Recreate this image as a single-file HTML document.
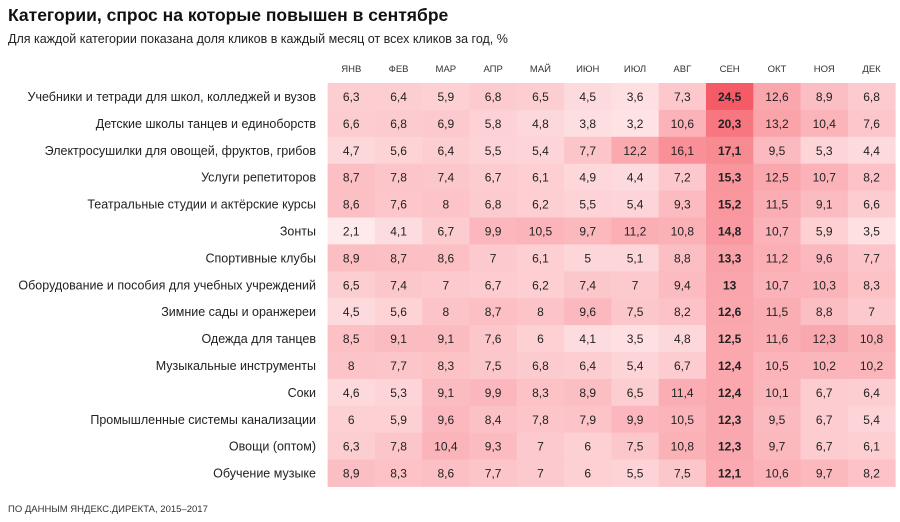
<!DOCTYPE html>
<html><head><meta charset="utf-8"><style>
body{margin:0;width:900px;height:517px;background:#fff;font-family:"Liberation Sans",sans-serif;overflow:hidden}
svg text{font-family:"Liberation Sans",sans-serif}
</style></head><body>
<svg id="c" width="900" height="517">
<text x="8" y="21" font-size="17.5" font-weight="bold" fill="#111">Категории, спрос на которые повышен в сентябре</text>
<text x="8" y="43" font-size="12.5" fill="#222">Для каждой категории показана доля кликов в каждый месяц от всех кликов за год, %</text>
<text x="8" y="512" font-size="9.5" fill="#333">ПО ДАННЫМ ЯНДЕКС.ДИРЕКТА, 2015–2017</text>
</svg>
<script>
const months=["ЯНВ","ФЕВ","МАР","АПР","МАЙ","ИЮН","ИЮЛ","АВГ","СЕН","ОКТ","НОЯ","ДЕК"];
const categories=["Учебники и тетради для школ, колледжей и вузов","Детские школы танцев и единоборств","Электросушилки для овощей, фруктов, грибов","Услуги репетиторов","Театральные студии и актёрские курсы","Зонты","Спортивные клубы","Оборудование и пособия для учебных учреждений","Зимние сады и оранжереи","Одежда для танцев","Музыкальные инструменты","Соки","Промышленные системы канализации","Овощи (оптом)","Обучение музыке"];
const values=[
[6.3,6.4,5.9,6.8,6.5,4.5,3.6,7.3,24.5,12.6,8.9,6.8],
[6.6,6.8,6.9,5.8,4.8,3.8,3.2,10.6,20.3,13.2,10.4,7.6],
[4.7,5.6,6.4,5.5,5.4,7.7,12.2,16.1,17.1,9.5,5.3,4.4],
[8.7,7.8,7.4,6.7,6.1,4.9,4.4,7.2,15.3,12.5,10.7,8.2],
[8.6,7.6,8,6.8,6.2,5.5,5.4,9.3,15.2,11.5,9.1,6.6],
[2.1,4.1,6.7,9.9,10.5,9.7,11.2,10.8,14.8,10.7,5.9,3.5],
[8.9,8.7,8.6,7,6.1,5,5.1,8.8,13.3,11.2,9.6,7.7],
[6.5,7.4,7,6.7,6.2,7.4,7,9.4,13,10.7,10.3,8.3],
[4.5,5.6,8,8.7,8,9.6,7.5,8.2,12.6,11.5,8.8,7],
[8.5,9.1,9.1,7.6,6,4.1,3.5,4.8,12.5,11.6,12.3,10.8],
[8,7.7,8.3,7.5,6.8,6.4,5.4,6.7,12.4,10.5,10.2,10.2],
[4.6,5.3,9.1,9.9,8.3,8.9,6.5,11.4,12.4,10.1,6.7,6.4],
[6,5.9,9.6,8.4,7.8,7.9,9.9,10.5,12.3,9.5,6.7,5.4],
[6.3,7.8,10.4,9.3,7,6,7.5,10.8,12.3,9.7,6.7,6.1],
[8.9,8.3,8.6,7.7,7,6,5.5,7.5,12.1,10.6,9.7,8.2]];
const NS="http://www.w3.org/2000/svg",svg=document.getElementById('c');
const x0=327.6,cw=47.3,y0=83,rh=26.9;
const xs=i=>x0+i*cw, ys=j=>y0+j*rh;
function col(v){const t=Math.min(v/25,1);const a=[255,246,247],b=[245,88,100];
return `rgb(${a.map((c,i)=>Math.round(c+(b[i]-c)*t)).join(',')})`;}
function mk(tag,at,txt){const e=document.createElementNS(NS,tag);for(const k in at)e.setAttribute(k,at[k]);if(txt!==undefined)e.textContent=txt;svg.appendChild(e);return e;}
months.forEach((m,i)=>{const e=mk('text',{x:xs(i)+cw/2,y:72,'font-size':9.5,'text-anchor':'middle',fill:'#333'},m);

});
categories.forEach((c,j)=>{const e=mk('text',{x:316,y:ys(j)+rh/2+4.5,'font-size':12.5,'text-anchor':'end',fill:'#222'},c);


values[j].forEach((v,i)=>{const r=mk('rect',{x:xs(i),y:ys(j),width:cw+0.4,height:rh+0.4,fill:col(v)});


const t=mk('text',{x:xs(i)+cw/2,y:ys(j)+rh/2+4.5,'font-size':12,'text-anchor':'middle',fill:'#222','font-weight':i==8?'bold':'normal'},String(v).replace('.',','));

});});
</script>
</body></html>
